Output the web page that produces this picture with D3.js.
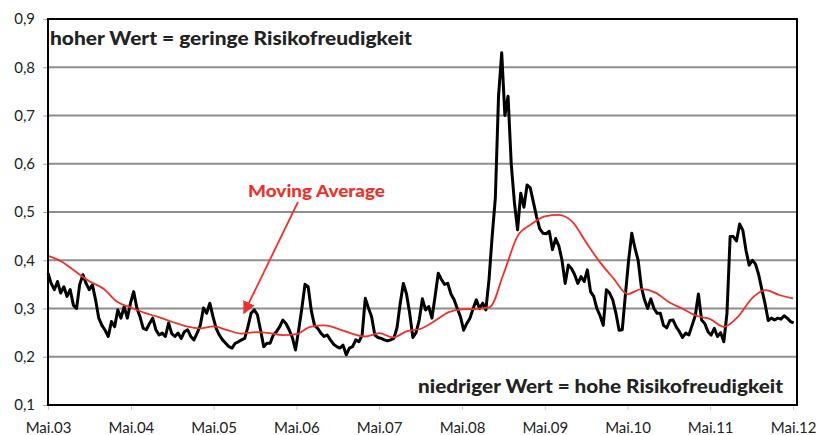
<!DOCTYPE html>
<html>
<head>
<meta charset="utf-8">
<script src="https://cdn.jsdelivr.net/npm/d3@7"></script>
<style>
  body { margin: 0; background: #fff; }
  text { font-family: Lato, "Open Sans", sans-serif; }
</style>
</head>
<body>
<div id="vis"></div>
<script>
// risk appetite index, biweekly readings from May 2003
const seriesStart = new Date(2003, 4, 1);
const seriesStepDays = 14;
const indexValues = [
  0.373, 0.352, 0.339, 0.356, 0.332, 0.345, 0.325, 0.339, 0.307, 0.300,
  0.350, 0.370, 0.352, 0.339, 0.349, 0.318, 0.280, 0.265, 0.255, 0.242,
  0.273, 0.262, 0.297, 0.280, 0.304, 0.280, 0.311, 0.335, 0.301, 0.283,
  0.259, 0.256, 0.269, 0.280, 0.256, 0.245, 0.249, 0.242, 0.270, 0.248,
  0.242, 0.249, 0.238, 0.252, 0.256, 0.242, 0.235, 0.249, 0.265, 0.301,
  0.290, 0.311, 0.283, 0.259, 0.245, 0.235, 0.228, 0.221, 0.218, 0.228,
  0.231, 0.235, 0.238, 0.262, 0.290, 0.297, 0.287, 0.255, 0.221, 0.228,
  0.228, 0.245, 0.252, 0.262, 0.276, 0.269, 0.256, 0.240, 0.214,
  0.255, 0.300, 0.350, 0.345, 0.295, 0.265, 0.259, 0.249, 0.242, 0.245,
  0.235, 0.226, 0.221, 0.218, 0.224, 0.204, 0.218, 0.221, 0.235, 0.231,
  0.245, 0.321, 0.301, 0.283, 0.245, 0.240, 0.238, 0.235, 0.233, 0.235,
  0.238, 0.260, 0.310, 0.352, 0.330, 0.290, 0.240, 0.250, 0.276, 0.320,
  0.297, 0.304, 0.280, 0.325, 0.373, 0.360, 0.350, 0.352, 0.330, 0.318,
  0.300, 0.283, 0.255, 0.269, 0.280, 0.300, 0.318, 0.300, 0.311, 0.297,
  0.360, 0.450, 0.530, 0.740, 0.830, 0.700, 0.740, 0.600, 0.520, 0.463,
  0.539, 0.510, 0.556, 0.550, 0.520, 0.490, 0.465, 0.456, 0.455,
  0.460, 0.422, 0.445, 0.430, 0.400, 0.352, 0.390, 0.383, 0.370, 0.352,
  0.366, 0.356, 0.380, 0.335, 0.325, 0.300, 0.285, 0.265, 0.339, 0.332,
  0.318, 0.290, 0.255, 0.256, 0.330, 0.400, 0.456, 0.425, 0.400, 0.345,
  0.318, 0.300, 0.320, 0.300, 0.290, 0.290, 0.265, 0.260, 0.275,
  0.276, 0.262, 0.252, 0.240, 0.249, 0.245, 0.265, 0.285, 0.330, 0.276,
  0.269, 0.252, 0.245, 0.259, 0.242, 0.250, 0.231, 0.290, 0.449, 0.449,
  0.440, 0.475, 0.462, 0.420, 0.390, 0.400, 0.392, 0.370, 0.339, 0.310,
  0.275, 0.280, 0.276, 0.280, 0.278, 0.285, 0.280, 0.273, 0.270
];

// moving average, read every two months from May 2003
const avgStepMonths = 2;
const movingAverage = [
  0.409, 0.397, 0.376, 0.356, 0.341, 0.314, 0.302, 0.291, 0.282, 0.272,
  0.263, 0.259, 0.263, 0.255, 0.248, 0.251, 0.249, 0.245, 0.247, 0.262,
  0.265, 0.258, 0.248, 0.242, 0.249, 0.240, 0.253, 0.258, 0.274, 0.292,
  0.298, 0.299, 0.303, 0.373, 0.450, 0.474, 0.491, 0.494, 0.479, 0.436,
  0.395, 0.362, 0.330, 0.340, 0.333, 0.313, 0.299, 0.285, 0.278, 0.262,
  0.283, 0.321, 0.338, 0.328, 0.321
];

const yTicks = [0.1, 0.2, 0.3, 0.4, 0.5, 0.6, 0.7, 0.8, 0.9];
const yTickLabels = ['0,1', '0,2', '0,3', '0,4', '0,5', '0,6', '0,7', '0,8', '0,9'];
const xTickYears = [2003, 2004, 2005, 2006, 2007, 2008, 2009, 2010, 2011, 2012];
const xTickLabels = ['Mai.03', 'Mai.04', 'Mai.05', 'Mai.06', 'Mai.07', 'Mai.08', 'Mai.09', 'Mai.10', 'Mai.11', 'Mai.12'];

let margin = { top: 19, left: 48, right: 25, bottom: 30 },
  width = 822 - margin.left - margin.right,
  height = 435 - margin.top - margin.bottom;

let svg = d3.select('#vis')
  .append('svg')
  .attr('width', 822)
  .attr('height', 435);

let x = d3.scaleTime()
  .domain([new Date(2003, 4, 1), new Date(2012, 4, 18)])
  .range([margin.left, margin.left + width]);

let y = d3.scaleLinear()
  .domain([0.1, 0.9])
  .range([margin.top + height, margin.top]);

// gridlines
svg.append('g')
  .selectAll('line')
  .data(yTicks.slice(1, -1))
  .join('line')
  .attr('x1', margin.left)
  .attr('x2', margin.left + width)
  .attr('y1', d => y(d))
  .attr('y2', d => y(d))
  .attr('stroke', '#8e8e8e')
  .attr('stroke-width', 2);

// y axis
let yAxis = svg.append('g')
  .attr('transform', 'translate(' + margin.left + ',0)')
  .call(d3.axisLeft(y).tickValues(yTicks).tickFormat((d, i) => yTickLabels[i]).tickSize(5).tickPadding(8));
yAxis.select('.domain').remove();
yAxis.selectAll('line').attr('stroke', '#aaa');
yAxis.selectAll('text').style('font-size', '15px').attr('fill', '#222');

// x axis
let xTickDates = xTickYears.map(yr => new Date(yr, 4, 1));
let xAxis = svg.append('g')
  .attr('transform', 'translate(0,' + (margin.top + height) + ')')
  .call(d3.axisBottom(x).tickValues(xTickDates).tickFormat((d, i) => xTickLabels[i]).tickSize(5).tickPadding(12));
xAxis.select('.domain').remove();
xAxis.selectAll('line').attr('stroke', '#ccc');
xAxis.selectAll('text').style('font-size', '15px').attr('fill', '#222');

// index line
let indexData = indexValues.map((v, i) => ({ date: d3.timeDay.offset(seriesStart, i * seriesStepDays), value: v }));
svg.append('path')
  .datum(indexData)
  .attr('fill', 'none')
  .attr('stroke', '#000')
  .attr('stroke-width', 3)
  .attr('stroke-linejoin', 'round')
  .attr('d', d3.line().x(d => x(d.date)).y(d => y(d.value)));

// moving average line
let avgData = movingAverage.map((v, i) => ({ date: d3.timeMonth.offset(seriesStart, i * avgStepMonths), value: v }));
svg.append('path')
  .datum(avgData)
  .attr('fill', 'none')
  .attr('stroke', '#f0302a')
  .attr('stroke-width', 1.8)
  .attr('d', d3.line().curve(d3.curveMonotoneX).x(d => x(d.date)).y(d => y(d.value)));

// plot frame
svg.append('rect')
  .attr('x', margin.left)
  .attr('y', margin.top)
  .attr('width', width)
  .attr('height', height)
  .attr('fill', 'none')
  .attr('stroke', '#000')
  .attr('stroke-width', 2);

// annotations
svg.append('text')
  .attr('x', 50)
  .attr('y', 45)
  .attr('textLength', 362)
  .attr('lengthAdjust', 'spacingAndGlyphs')
  .style('font-size', '19px')
  .style('font-weight', '900')
  .attr('fill', '#222')
  .text('hoher Wert = geringe Risikofreudigkeit');

svg.append('text')
  .attr('x', 418)
  .attr('y', 393)
  .attr('textLength', 365)
  .attr('lengthAdjust', 'spacingAndGlyphs')
  .style('font-size', '19px')
  .style('font-weight', '900')
  .attr('fill', '#222')
  .text('niedriger Wert = hohe Risikofreudigkeit');

svg.append('defs').append('marker')
  .attr('id', 'arrow')
  .attr('viewBox', '0 0 10 10')
  .attr('refX', 9)
  .attr('refY', 5)
  .attr('markerWidth', 7)
  .attr('markerHeight', 7)
  .attr('orient', 'auto')
  .append('path')
  .attr('d', 'M0,0L10,5L0,10z')
  .attr('fill', '#f0302a');

svg.append('line')
  .attr('x1', 298)
  .attr('y1', 202)
  .attr('x2', 244)
  .attr('y2', 313)
  .attr('stroke', '#f0302a')
  .attr('stroke-width', 1.8)
  .attr('marker-end', 'url(#arrow)');

svg.append('text')
  .attr('x', 248)
  .attr('y', 197)
  .attr('textLength', 137)
  .attr('lengthAdjust', 'spacingAndGlyphs')
  .style('font-size', '16px')
  .style('font-weight', '900')
  .attr('fill', '#f0302a')
  .text('Moving Average');
</script>
</body>
</html>
